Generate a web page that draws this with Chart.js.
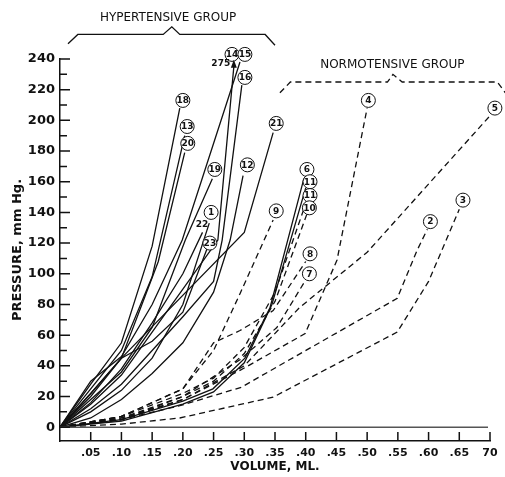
<!DOCTYPE html>
<html>
<head>
<meta charset="utf-8">
<script src="https://cdn.jsdelivr.net/npm/chart.js@4.4.0/dist/chart.umd.min.js"></script>
<style>
  body { margin: 0; background: #fff; }
</style>
</head>
<body>
<canvas id="myGraph" width="505" height="477"></canvas>
<script>
// [volume ml, pressure mm Hg], one array per heart

// hypertensive group (solid)
const h18 = [[0,0],[0.05,28],[0.1,55],[0.15,118],[0.195,208]];
const h13 = [[0,0],[0.05,25],[0.1,50],[0.15,98],[0.203,190]];
const h20 = [[0,0],[0.05,22],[0.1,45],[0.16,108],[0.203,179]];
const h15 = [[0,0],[0.05,30],[0.1,46],[0.15,80],[0.199,122],[0.293,238]];
const h14 = [[0,0],[0.05,15],[0.1,34],[0.15,62],[0.2,90],[0.257,122],[0.283,235]];
const h16 = [[0,0],[0.05,12],[0.1,28],[0.15,50],[0.2,72],[0.25,95],[0.264,122],[0.296,223]];
const h19 = [[0,0],[0.05,18],[0.1,36],[0.15,65],[0.204,122],[0.248,162]];
const h1  = [[0,0],[0.05,10],[0.1,24],[0.15,45],[0.2,80],[0.243,133]];
const h22 = [[0,0],[0.05,16],[0.1,38],[0.15,68],[0.2,100],[0.232,127]];
const h23 = [[0,0],[0.05,20],[0.1,45],[0.15,56],[0.2,75],[0.24,117]];
const h12 = [[0,0],[0.05,6],[0.1,18],[0.15,35],[0.2,55],[0.25,88],[0.277,122],[0.298,164]];
const h21 = [[0,0],[0.05,22],[0.1,45],[0.3,127],[0.347,192]];
const h6  = [[0,0],[0.1,5],[0.2,17],[0.249,25],[0.301,45],[0.342,78],[0.397,162]];
const h11 = [[0,0],[0.1,4],[0.2,15],[0.25,23],[0.3,42],[0.345,80],[0.4,156]];

// normotensive group (dashed)
const n11 = [[0,0],[0.1,7],[0.2,22],[0.25,32],[0.3,52],[0.35,88],[0.402,148]];
const n10 = [[0,0],[0.1,6],[0.2,20],[0.25,30],[0.3,48],[0.35,82],[0.402,139]];
const n9  = [[0,0],[0.1,7],[0.2,25],[0.25,50],[0.293,87],[0.347,135]];
const n8  = [[0,0],[0.1,7],[0.2,25],[0.25,55],[0.293,63],[0.347,76],[0.4,108]];
const n7  = [[0,0],[0.1,5],[0.2,20],[0.293,44],[0.353,65],[0.4,96]];
const n4  = [[0,0],[0.1,5],[0.2,18],[0.293,37],[0.399,61],[0.451,109],[0.5,208]];
const n5  = [[0,0],[0.1,6],[0.2,18],[0.3,40],[0.39,78],[0.5,114],[0.7,203]];
const n2  = [[0,0],[0.1,5],[0.195,14],[0.295,26],[0.549,84],[0.581,115],[0.598,129]];
const n3  = [[0,0],[0.1,2],[0.195,6],[0.347,19.6],[0.549,62],[0.6,95],[0.65,142]];

const yTicks = [0,20,40,60,80,100,120,140,160,180,200,220,240];
const yMinor = [10,30,50,70,90,110,130,150,170,190,210,230];
const xTicks = [0.05,0.10,0.15,0.20,0.25,0.30,0.35,0.40,0.45,0.50,0.55,0.60,0.65,0.70];
const xTickLabels = ['.05','.10','.15','.20','.25','.30','.35','.40','.45','.50','.55','.60','.65','70'];

// curve numbers: [text, volume, pressure, circled]
const tags = [
  ['14',0.280,243],['15',0.301,243],['16',0.301,228],['18',0.200,213],
  ['13',0.207,196],['20',0.208,185],['19',0.252,168],['12',0.305,171],
  ['21',0.352,198],['1',0.246,140],['23',0.244,120],['9',0.352,141],
  ['6',0.402,168],['11',0.407,160],['11',0.407,151],['10',0.406,143],
  ['8',0.407,113],['7',0.406,100],['4',0.502,213],['5',0.708,208],
  ['2',0.603,134],['3',0.656,148]
];

const curves = [
  {name:'18', pts:h18, dashed:false}, {name:'13', pts:h13, dashed:false},
  {name:'20', pts:h20, dashed:false}, {name:'15', pts:h15, dashed:false},
  {name:'14', pts:h14, dashed:false}, {name:'16', pts:h16, dashed:false},
  {name:'19', pts:h19, dashed:false}, {name:'1',  pts:h1,  dashed:false},
  {name:'22', pts:h22, dashed:false}, {name:'23', pts:h23, dashed:false},
  {name:'12', pts:h12, dashed:false}, {name:'21', pts:h21, dashed:false},
  {name:'6',  pts:h6,  dashed:false}, {name:'11', pts:h11, dashed:false},
  {name:'11', pts:n11, dashed:true},  {name:'10', pts:n10, dashed:true},
  {name:'9',  pts:n9,  dashed:true},  {name:'8',  pts:n8,  dashed:true},
  {name:'7',  pts:n7,  dashed:true},  {name:'4',  pts:n4,  dashed:true},
  {name:'5',  pts:n5,  dashed:true},  {name:'2',  pts:n2,  dashed:true},
  {name:'3',  pts:n3,  dashed:true}
];

const ctx = document.getElementById('myGraph');

const datasets = curves.map(c => ({
  label: c.name,
  data: c.pts.map(p => ({x: p[0], y: p[1]})),
  borderColor: '#111',
  borderWidth: 1.3,
  borderDash: c.dashed ? [6, 4] : [],
  pointRadius: 0,
  fill: false,
  tension: 0,
  clip: false
}));

// brackets over the two groups, in chart units
const hypBracket = [[0.013,250],[0.029,256],[0.168,256],[0.182,261],[0.195,256],[0.334,256],[0.350,249]];
const normBracket = [[0.358,218],[0.375,225],[0.533,225],[0.542,230],[0.557,225],[0.712,225],[0.725,218]];

const ink = {
  id: 'ink',
  afterDraw(chart) {
    const {ctx, chartArea: a, scales: {x, y}} = chart;
    ctx.save();
    ctx.strokeStyle = '#111';
    ctx.fillStyle = '#111';

    // zero line
    ctx.lineWidth = 1.5;
    ctx.strokeStyle = '#555';
    ctx.beginPath();
    ctx.moveTo(a.left, y.getPixelForValue(0));
    ctx.lineTo(a.right - 2, y.getPixelForValue(0));
    ctx.stroke();

    // inward ticks
    ctx.strokeStyle = '#111';
    ctx.lineWidth = 1.5;
    ctx.beginPath();
    yTicks.forEach(v => { const py = y.getPixelForValue(v); ctx.moveTo(a.left, py); ctx.lineTo(a.left + 10, py); });
    yMinor.forEach(v => { const py = y.getPixelForValue(v); ctx.moveTo(a.left, py); ctx.lineTo(a.left + 7, py); });
    xTicks.forEach(v => { const px = x.getPixelForValue(v); ctx.moveTo(px, a.bottom); ctx.lineTo(px, a.bottom - 9); });
    ctx.stroke();

    // brackets
    const bracket = (pts, dash) => {
      ctx.setLineDash(dash);
      ctx.lineWidth = 1.3;
      ctx.beginPath();
      pts.forEach((p, i) => {
        const px = x.getPixelForValue(p[0]), py = y.getPixelForValue(p[1]);
        if (i === 0) ctx.moveTo(px, py); else ctx.lineTo(px, py);
      });
      ctx.stroke();
      ctx.setLineDash([]);
    };
    bracket(hypBracket, []);
    bracket(normBracket, [6, 4]);

    ctx.font = '12px "DejaVu Sans"';
    ctx.textAlign = 'center';
    ctx.textBaseline = 'middle';
    ctx.fillText('HYPERTENSIVE GROUP', x.getPixelForValue(0.176), y.getPixelForValue(267));
    ctx.fillText('NORMOTENSIVE GROUP', x.getPixelForValue(0.541), y.getPixelForValue(236));

    // circled curve numbers
    ctx.lineWidth = 1;
    ctx.font = 'bold 9px "DejaVu Sans"';
    tags.forEach(t => {
      const px = x.getPixelForValue(t[1]), py = y.getPixelForValue(t[2]);
      ctx.fillStyle = '#fff';
      ctx.beginPath();
      ctx.arc(px, py, 7, 0, Math.PI * 2);
      ctx.fill();
      ctx.stroke();
      ctx.fillStyle = '#111';
      ctx.fillText(t[0], px, py + 0.5);
    });

    // uncircled ones
    ctx.fillText('22', x.getPixelForValue(0.231), y.getPixelForValue(132));
    ctx.textAlign = 'right';
    ctx.fillText('275', x.getPixelForValue(0.277), y.getPixelForValue(237));
    const ax = x.getPixelForValue(0.283), ay = y.getPixelForValue(235);
    ctx.beginPath();
    ctx.moveTo(ax, ay - 7);
    ctx.lineTo(ax - 3, ay + 1);
    ctx.lineTo(ax + 3, ay + 1);
    ctx.closePath();
    ctx.fill();

    ctx.restore();
  }
};

const config = {
  type: 'line',
  data: { datasets: datasets },
  options: {
    responsive: false,
    animation: false,
    devicePixelRatio: 1,
    layout: { padding: { top: 59, right: 15, left: 0, bottom: 0 } },
    plugins: { legend: { display: false }, tooltip: { enabled: false } },
    scales: {
      x: {
        type: 'linear',
        min: 0,
        max: 0.7,
        afterFit: s => { s.height = 36; },
        afterBuildTicks: s => { s.ticks = xTicks.map(v => ({ value: v })); },
        grid: { drawOnChartArea: false, drawTicks: false },
        border: { display: true, color: '#111', width: 1.5 },
        ticks: {
          autoSkip: false,
          maxRotation: 0,
          padding: 6,
          color: '#111',
          font: { family: 'DejaVu Sans', size: 11, weight: 'bold' },
          callback: (v, i) => xTickLabels[i]
        },
        title: {
          display: true,
          text: 'VOLUME, ML.',
          color: '#111',
          padding: { top: 0, bottom: 3 },
          font: { family: 'DejaVu Sans', size: 12, weight: 'bold' }
        }
      },
      y: {
        min: -9,
        max: 240,
        afterFit: s => { s.width = 60; },
        afterBuildTicks: s => { s.ticks = yTicks.map(v => ({ value: v })); },
        grid: { drawOnChartArea: false, drawTicks: false },
        border: { display: true, color: '#111', width: 1.5 },
        ticks: {
          padding: 5,
          color: '#111',
          font: { family: 'DejaVu Sans', size: 13, weight: 'bold' }
        },
        title: {
          display: true,
          text: 'PRESSURE, mm Hg.',
          color: '#111',
          padding: { top: 10, bottom: 0 },
          font: { family: 'DejaVu Sans', size: 13, weight: 'bold' }
        }
      }
    }
  },
  plugins: [ink]
};

const myChart = new Chart(ctx, config);
</script>
</body>
</html>
